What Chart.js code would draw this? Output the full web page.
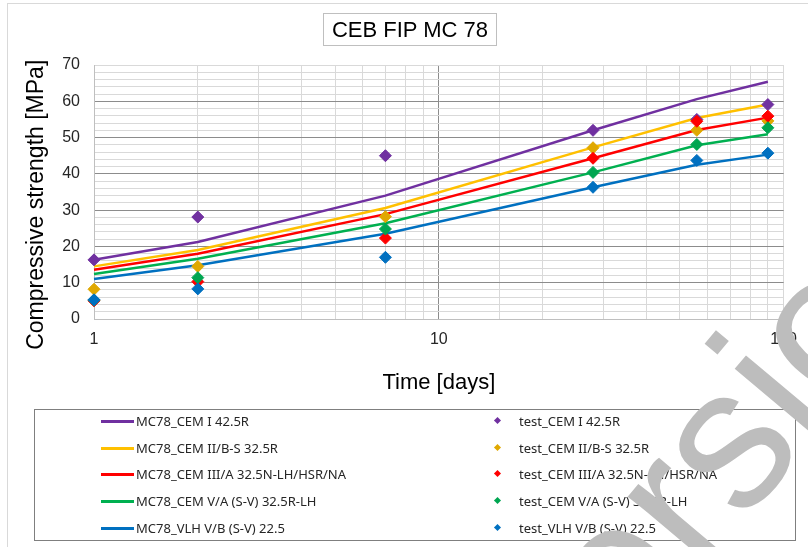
<!DOCTYPE html>
<html>
<head>
<meta charset="utf-8">
<script src="https://cdn.jsdelivr.net/npm/chart.js@4/dist/chart.umd.min.js"></script>
<style>
  body { margin: 0; background: #fff; font-family: "Liberation Sans", Arial, sans-serif; }
  #wrap { position: relative; width: 808px; height: 547px; overflow: hidden; }
  #frame { position: absolute; left: 7px; top: 3px; width: 900px; height: 700px;
           border-left: 1px solid #d9d9d9; border-top: 1px solid #d9d9d9; }
  #chart, #stamp { position: absolute; left: 0; top: 0; }
  #stamp { pointer-events: none; }
  #title { position: absolute; left: 323px; top: 13px; width: 172px; height: 31px;
           border: 1px solid #bfbfbf; font-size: 22px; line-height: 31px; text-align: center; color: #000; }
  #legend { position: absolute; left: 34px; top: 409px; width: 760px; height: 130px;
            border: 1px solid #7f7f7f; font-family: "Noto Sans", sans-serif; font-size: 13px; color: #262626; }
  .item { position: absolute; height: 20px; line-height: 20px; white-space: nowrap; }
  .swatch { position: absolute; }
</style>
</head>
<body>
<div id="wrap">
  <div id="frame"></div>
  <canvas id="chart" width="808" height="547"></canvas>
  <div id="title">CEB FIP MC 78</div>
  <div id="legend"></div>
  <canvas id="stamp" width="808" height="547"></canvas>
</div>
<script>
// test ages in days
const days = [1, 2, 7, 28, 56, 90];

const cements = [
  'CEM I 42.5R',
  'CEM II/B-S 32.5R',
  'CEM III/A 32.5N-LH/HSR/NA',
  'CEM V/A (S-V) 32.5R-LH',
  'VLH V/B (S-V) 22.5'
];
const lineColors = ['#7030a0', '#ffc000', '#ff0000', '#00b050', '#0070c0'];
const markerColors = ['#7030a0', '#e0a800', '#ff0000', '#00a651', '#0070c0'];

// MC78 model curves [MPa]
const mc78CemI = [16.3, 21.2, 34.0, 52.0, 60.6, 65.4];
const mc78CemII = [14.5, 19.0, 30.6, 47.3, 55.4, 59.1];
const mc78CemIII = [13.6, 18.0, 28.9, 44.3, 52.1, 55.5];
const mc78CemV = [12.4, 16.6, 26.4, 40.4, 47.9, 50.9];
const mc78Vlh = [11.0, 14.8, 23.5, 36.3, 42.5, 45.3];

// measured values [MPa]
const testCemI = [16.3, 28.1, 45.0, 52.0, 55.0, 59.1];
const testCemII = [8.2, 14.5, 28.2, 47.2, 52.0, 54.6];
const testCemIII = [5.0, 10.3, 22.3, 44.3, 54.5, 55.9];
const testCemV = [5.2, 11.4, 24.8, 40.4, 48.1, 52.7];
const testVlh = [5.3, 8.3, 17.0, 36.3, 43.7, 45.7];

const yTicks = [0, 10, 20, 30, 40, 50, 60, 70];
const xTicks = [1, 10, 100];

const models = [mc78CemI, mc78CemII, mc78CemIII, mc78CemV, mc78Vlh];
const tests = [testCemI, testCemII, testCemIII, testCemV, testVlh];

const toPoints = vals => vals.map((v, i) => ({ x: days[i], y: v }));

const datasets = [];
models.forEach((vals, i) => {
  datasets.push({
    label: 'MC78_' + cements[i],
    data: toPoints(vals),
    borderColor: lineColors[i],
    backgroundColor: lineColors[i],
    borderWidth: 2.5,
    pointRadius: 0,
    tension: 0,
    clip: false,
    order: 20 - i
  });
});
tests.forEach((vals, i) => {
  datasets.push({
    label: 'test_' + cements[i],
    data: toPoints(vals),
    showLine: false,
    borderColor: markerColors[i],
    backgroundColor: markerColors[i],
    pointStyle: 'rectRot',
    pointRadius: 6,
    pointBorderWidth: 1,
    clip: false,
    order: 10 - i
  });
});

const MAJOR = '#8c8c8c';
const MINOR = '#d9d9d9';

const chart = new Chart(document.getElementById('chart'), {
  type: 'line',
  data: { datasets },
  options: {
    responsive: false,
    animation: false,
    devicePixelRatio: 1,
    layout: { padding: { left: 10, right: 24, top: 65, bottom: 147 } },
    plugins: { legend: { display: false }, tooltip: { enabled: false } },
    scales: {
      x: {
        type: 'logarithmic',
        min: 1,
        max: 100,
        afterFit: s => { s.height = 81; },
        border: { color: '#bfbfbf' },
        grid: {
          drawTicks: false,
          color: c => (c.tick && c.tick.value === 10 ? MAJOR : MINOR)
        },
        ticks: {
          autoSkip: false,
          maxRotation: 0,
          padding: 11,
          color: '#262626',
          font: { family: 'Liberation Sans', size: 16 },
          callback: v => (xTicks.includes(v) ? String(v) : '')
        },
        title: {
          display: true,
          text: 'Time [days]',
          color: '#000',
          font: { family: 'Liberation Sans', size: 22 },
          padding: { top: 4, bottom: 4 }
        }
      },
      y: {
        min: 0,
        max: 70,
        afterFit: s => { s.width = 84; },
        border: { color: '#bfbfbf' },
        grid: {
          drawTicks: false,
          color: c => {
            const v = c.tick ? c.tick.value : 0;
            return v % 10 === 0 && v > 0 && v < 70 ? MAJOR : MINOR;
          }
        },
        ticks: {
          stepSize: 2,
          autoSkip: false,
          padding: 14,
          color: '#262626',
          font: { family: 'Liberation Sans', size: 16 },
          callback: v => (yTicks.includes(v) ? String(v) : '')
        },
        title: {
          display: true,
          // trailing no-break spaces nudge the title down like the original
          text: 'Compressive strength [MPa]\u00a0\u00a0\u00a0\u00a0',
          color: '#000',
          font: { family: 'Liberation Sans', size: 23 },
          padding: { top: 13, bottom: 4 }
        }
      }
    }
  }
});

// two-column legend: model lines left, test markers right
const legend = document.getElementById('legend');
chart.data.datasets.forEach((ds, i) => {
  const col = i < 5 ? 0 : 1;
  const row = i % 5;
  const item = document.createElement('div');
  item.className = 'item';
  item.style.top = (1 + row * 26.7) + 'px';
  const sw = document.createElement('span');
  sw.className = 'swatch';
  if (col === 0) {
    item.style.left = '66px';
    item.style.paddingLeft = '35px';
    sw.style.left = '0px';
    sw.style.top = '9px';
    sw.style.width = '33px';
    sw.style.height = '3px';
    sw.style.background = ds.borderColor;
  } else {
    item.style.left = '458px';
    item.style.paddingLeft = '26px';
    sw.style.left = '2px';
    sw.style.top = '7px';
    sw.style.width = '5px';
    sw.style.height = '5px';
    sw.style.transform = 'rotate(45deg)';
    sw.style.background = ds.backgroundColor;
  }
  item.appendChild(sw);
  item.appendChild(document.createTextNode(ds.label));
  legend.appendChild(item);
});

// grey "Version" stamp running up the bottom-right corner
const stamp = document.getElementById('stamp').getContext('2d');
stamp.font = '200px "Liberation Sans"';
stamp.fillStyle = '#bdbdbd';
const before = stamp.measureText('Ver').width;
const sWidth = stamp.measureText('s').width;
stamp.translate(735, 452);
stamp.rotate(-50 * Math.PI / 180);
stamp.fillText('Version', -before - sWidth / 2, 52);
</script>
</body>
</html>
